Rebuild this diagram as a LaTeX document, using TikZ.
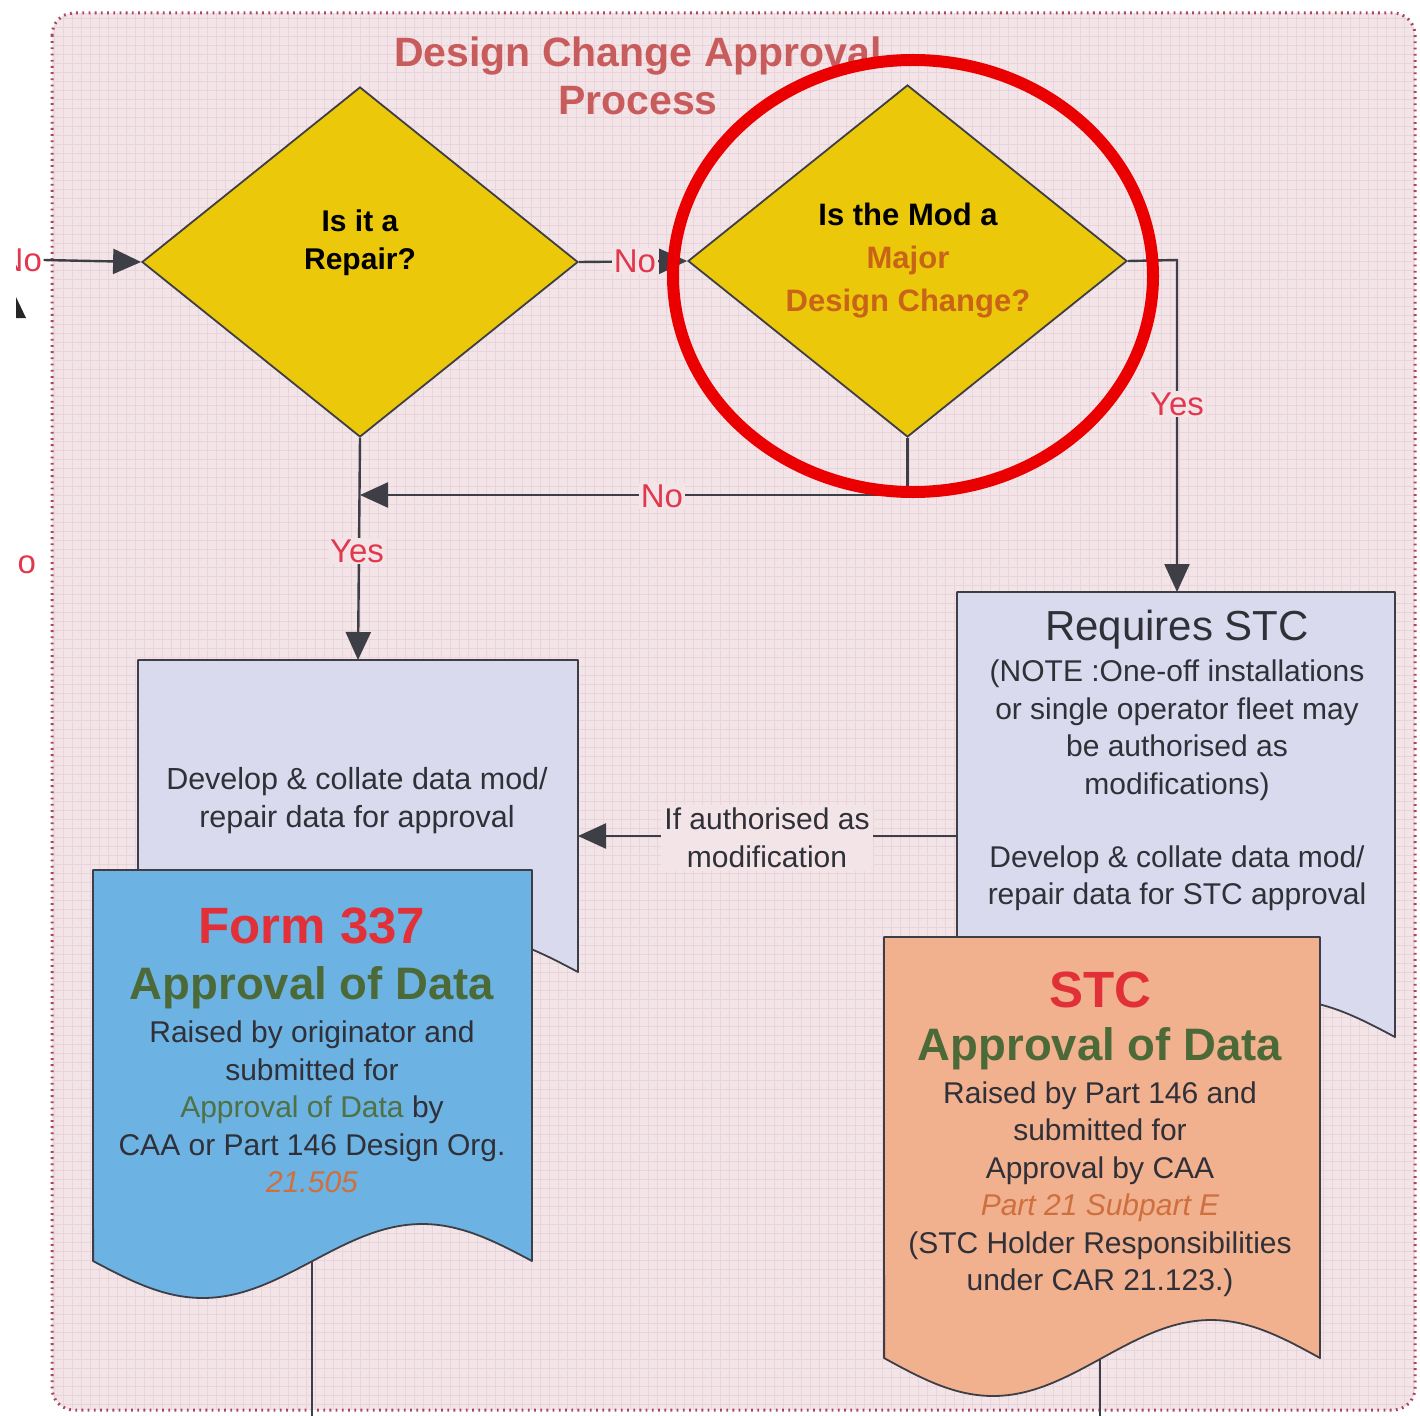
\documentclass[tikz,border=0pt]{standalone}
\usepackage{fontspec}
\setmainfont{Liberation Sans}
\usetikzlibrary{shapes.geometric,arrows.meta}

\definecolor{paper}{RGB}{243,228,231}
\definecolor{gridc}{RGB}{232,212,218}
\definecolor{framec}{RGB}{170,70,95}
\definecolor{lineg}{RGB}{62,62,70}
\definecolor{ylw}{RGB}{236,200,10}
\definecolor{lav}{RGB}{218,218,238}
\definecolor{sky}{RGB}{108,178,226}
\definecolor{salmon}{RGB}{241,176,142}
\definecolor{lblred}{RGB}{226,56,78}
\definecolor{ttl}{RGB}{200,92,92}
\definecolor{hdred}{RGB}{226,48,56}
\definecolor{grn}{RGB}{76,106,56}
\definecolor{grnlt}{RGB}{80,112,70}
\definecolor{orng}{RGB}{206,112,62}
\definecolor{major}{RGB}{200,100,24}
\definecolor{txt}{RGB}{48,48,56}
\definecolor{ringred}{RGB}{234,0,0}

\newcommand{\fs}[2]{\fontsize{#1}{#2}\selectfont}
% document symbol: left x, right x, top y, baseline of the wavy edge, wave amplitude, fill
\newcommand{\drawdoc}[6]{%
  \path[draw=lineg, line width=1.8pt, fill=#6, line join=round]
    (#1,#3) -- (#2,#3) -- (#2,#4)
    -- plot[domain=1:0, samples=61, smooth] ({#1+\x*(#2-#1)},{#4+#5*sin(360*\x)})
    -- cycle;}

\begin{document}
\begin{tikzpicture}[x=1pt, y=-1pt,
  conn/.style={draw=lineg, line width=2.4pt},
  arr/.style={conn, -{Triangle[length=28pt, width=25pt]}},
  decision/.style={diamond, draw=lineg, line width=1.8pt, fill=ylw, inner sep=0pt},
  lbl/.style={text=lblred, font=\fs{33}{38}, fill=paper, inner sep=1.5pt},
  body/.style={text=txt, font=\fs{30}{37.5}, align=center, inner sep=0pt},
  head/.style={font=\bfseries\fs{51}{56}, text=hdred, inner sep=0pt},
  subhead/.style={font=\bfseries\fs{45.5}{50}, text=grn, inner sep=0pt},
  ask/.style={font=\bfseries\fs{30}{38}, align=center, inner sep=0pt}]

\useasboundingbox (0,0) rectangle (1420,1415);

% grid-paper sheet with dotted rounded frame
\fill[paper, rounded corners=22pt] (52,13) rectangle (1415,1410);
\begin{scope}
  \clip[rounded corners=22pt] (52,13) rectangle (1415,1410);
  \draw[gridc, line width=0.6pt, step=9pt] (40,0) grid (1420,1415);
\end{scope}
\draw[framec, line width=3pt, dash pattern=on 1.8pt off 4.4pt, rounded corners=22pt]
  (52,13) rectangle (1415,1410);

% title
\node[font=\bfseries\fs{41}{48}, text=ttl, align=center] (title) at (638,76)
  {Design Change Approval\\Process};

% decisions
\node[decision, minimum width=436pt, minimum height=350pt] (d1) at (360,262) {};
\node[decision, minimum width=439pt, minimum height=352pt] (d2) at (907.5,261) {};
\node[ask] (q1) at (360,243) {Is it a\\Repair?};
\node[ask, font=\bfseries\fs{31}{43}] (q2) at (908,261)
  {Is the Mod a\\\textcolor{major}{Major}\\\textcolor{major}{Design Change?}};

% ports on the document symbols
\coordinate (devtop)  at (358,660);
\coordinate (deveast) at (578,836);
\coordinate (reqtop)  at (1177,592);
\coordinate (reqwest) at (957,836);
\coordinate (formbot) at (312,1262);
\coordinate (stcbot)  at (1100,1358);
\coordinate (join)    at (360,495);
\coordinate (bend)    at (1177,260);
\coordinate (authc)   at (767,838);

% incoming branch at the left edge
\node[lbl, anchor=west, fill=none] (nin) at (-2,260) {No};
\node[lbl, anchor=west, fill=none] (nin2) at (-8,562) {No};
\fill[black!85] (16,297) -- (26,318) -- (6,318) -- cycle;
\draw[arr] (nin.east) -- (d1.west);

% connectors
\draw[arr] (d1.east) -- (d2.west);
\draw[arr] (d1.south) -- (devtop);
\draw[arr] (d2.south) -- (d2.south |- join) -- (join);
\draw[arr] (d2.east) -- (bend) -- (reqtop);
\draw[arr] (reqwest) -- (deveast);
\draw[conn] (formbot) -- (312,1420);
\draw[conn] (stcbot) -- (1100,1420);

% connector labels
\node[lbl] (no1) at (635,261) {No};
\node[lbl] (no2) at (662,496) {No};
\node[lbl] (yes1) at (357,551) {Yes};
\node[lbl] (yes2) at (1177,404) {Yes};
\node[body, fill=paper, inner sep=3pt, font=\fs{30}{38}] (auth) at (authc)
  {If authorised as\\modification};

% left column: data development and Form 337
\drawdoc{138}{578}{660}{972}{37}{lav}
\node[body, font=\fs{30.5}{38}] (dev) at (357,801)
  {Develop \& collate data mod/\\repair data for approval};
\drawdoc{93}{532}{870}{1261}{37}{sky}
\node[head] (f337) at (312,926) {Form 337};
\node[subhead] (f337a) at (312,988) {Approval of Data};
\node[body] (f337b) at (312,1107)
  {Raised by originator and\\submitted for\\
   \textcolor{grnlt}{Approval of Data} by\\CAA or Part 146 Design Org.\\
   \textcolor{orng}{\itshape 21.505}};

% right column: STC route
\drawdoc{957}{1395}{592}{1037}{37}{lav}
\node[text=txt, font=\fs{42}{46}, inner sep=0pt] (req) at (1177,630) {Requires STC};
\node[body] (reqn) at (1177,730)
  {(NOTE :One-off installations\\or single operator fleet may\\be authorised as\\modifications)};
\node[body] (reqd) at (1177,878)
  {Develop \& collate data mod/\\repair data for STC approval};
\drawdoc{884}{1320}{937}{1358}{38}{salmon}
\node[head] (stc) at (1100,990) {STC};
\node[subhead] (stca) at (1100,1049) {Approval of Data};
\node[body] (stcb) at (1100,1189)
  {Raised by Part 146 and\\submitted for\\Approval by CAA\\
   \textcolor{orng}{\itshape Part 21 Subpart E}\\
   (STC Holder Responsibilities\\under CAR 21.123.)};

% highlight ring
\draw[ringred, line width=12pt] (913,276) ellipse [x radius=240pt, y radius=216pt];

% trimmed left margin
\fill[white] (0,0) rectangle (16,1415);
\end{tikzpicture}
\end{document}
